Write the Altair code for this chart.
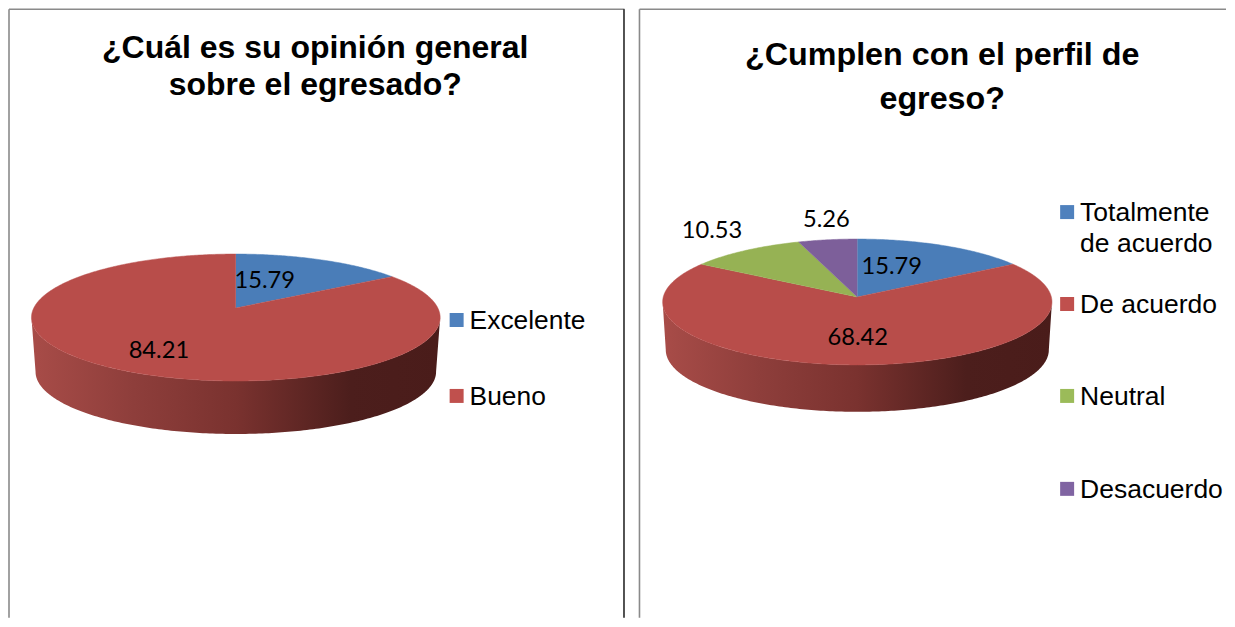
import math
import altair as alt
import pandas as pd

# ---- chart values ----
LEFT_TITLE = ["¿Cuál es su opinión general", "sobre el egresado?"]
LEFT_CATEGORIES = ["Excelente", "Bueno"]
LEFT_VALUES = [15.79, 84.21]

RIGHT_TITLE = ["¿Cumplen con el perfil de", "egreso?"]
RIGHT_CATEGORIES = ["Totalmente de acuerdo", "De acuerdo", "Neutral", "Desacuerdo"]
RIGHT_VALUES = [15.79, 68.42, 10.53, 5.26]

# ---- styling and layout ----
SLICE_COLORS = ["#4A7DB8", "#B84D4A", "#96B254", "#7D5F9A"]
KEY_COLORS = ["#4F81BD", "#C0504D", "#9BBB59", "#8064A2"]
WALL_STOPS = [(0, "#A84C48"), (0.25, "#8E3E3B"), (0.5, "#7A322F"), (0.78, "#4C1E1C"), (1, "#4A1C1A")]
H = 610
LABEL_FONT = "Lato"
KEY_FONT = "Liberation Sans"

LEFT_PANEL = dict(x0=8, x1=625, cx=236, cy=308, A=202.2, B=62.1, k=0.15, s=0.98, d=54.5)
RIGHT_PANEL = dict(x0=638, x1=1226, cx=857, cy=297, A=194.2, B=62.6, k=0.079, s=0.984, d=48)
LEFT_LABEL_POS = [(265, 281), (159, 351)]
RIGHT_LABEL_POS = [(891.5, 267), (857.5, 338), (711.5, 231), (826, 220)]
LEFT_KEY = dict(x=457, tx=470, y=[320, 396], size=26.4)
RIGHT_KEY = dict(x=1067, tx=1080, y=[212, 304, 396, 489], size=26.5)
LEFT_TITLE_POS = dict(x=315.5, y=58, lh=37, size=32)
RIGHT_TITLE_POS = dict(x=942, y=65, lh=44, size=32.3)


def project(theta, p, wall=False):
    u, v = math.sin(theta), math.cos(theta)
    w = 1 + p["k"] * v
    s = p["s"] if wall else 1
    d = p["d"] if wall else 0
    return p["cx"] + s * p["A"] * u / w, p["cy"] + d - s * p["B"] * v / w


def slice_rows(categories, values, p):
    rows, start = [], 0.0
    total = sum(values)
    for name, val in zip(categories, values):
        end = start + val / total * 2 * math.pi
        n = max(3, int((end - start) * 90))
        rows.append(dict(cat=name, i=0, x=p["cx"], y=p["cy"]))
        for j in range(n + 1):
            x, y = project(start + (end - start) * j / n, p)
            rows.append(dict(cat=name, i=j + 1, x=x, y=y))
        start = end
    return pd.DataFrame(rows)


def wall_rows(p):
    a0 = math.acos(-p["k"])
    a1 = 2 * math.pi - a0
    n = 200
    rows = []
    for j in range(n + 1):
        x, y = project(a0 + (a1 - a0) * j / n, p)
        rows.append(dict(i=j, x=x, y=y))
    for j in range(n + 1):
        x, y = project(a1 - (a1 - a0) * j / n, p, wall=True)
        rows.append(dict(i=n + 1 + j, x=x, y=y))
    return pd.DataFrame(rows)


def panel(title, categories, values, p, label_pos, key, tpos, extra=None):
    xs = alt.Scale(domain=[p["x0"], p["x1"]], nice=False, zero=False)
    ys = alt.Scale(domain=[8 + H, 8], nice=False, zero=False)
    X = lambda f="x": alt.X(f"{f}:Q", scale=xs, axis=None)
    Y = lambda f="y": alt.Y(f"{f}:Q", scale=ys, axis=None)

    wall = alt.Chart(wall_rows(p)).mark_line(
        fill=alt.Gradient(
            gradient="linear", x1=0, x2=1, y1=0, y2=0,
            stops=[alt.GradientStop(offset=o, color=c) for o, c in WALL_STOPS],
        ),
        stroke="transparent",
    ).encode(x=X(), y=Y(), order=alt.Order("i:Q"))

    slice_scale = alt.Scale(domain=categories, range=SLICE_COLORS[:len(categories)])
    faces = alt.Chart(slice_rows(categories, values, p)).mark_line(strokeWidth=0.5).encode(
        x=X(), y=Y(), order=alt.Order("i:Q"),
        fill=alt.Fill("cat:N", scale=slice_scale, legend=None),
        stroke=alt.Stroke("cat:N", scale=slice_scale, legend=None),
    )

    labels = alt.Chart(pd.DataFrame({
        "x": [q[0] for q in label_pos], "y": [q[1] for q in label_pos],
        "t": [f"{v:.2f}" for v in values],
    })).mark_text(font=LABEL_FONT, fontSize=23.7, color="black").encode(x=X(), y=Y(), text="t:N")

    key_df = pd.DataFrame({
        "cat": categories, "x": [key["x"]] * len(categories), "tx": [key["tx"]] * len(categories),
        "y": key["y"],
        "t": ["Totalmente|de acuerdo" if c.startswith("Totalmente") else c for c in categories],
    })
    key_marks = alt.Chart(key_df).mark_square(size=196, opacity=1).encode(
        x=X(), y=Y(),
        color=alt.Color("cat:N", scale=alt.Scale(domain=categories, range=KEY_COLORS[:len(categories)]), legend=None),
    )
    key_text = alt.Chart(key_df).transform_calculate(lines="split(datum.t, '|')").mark_text(
        font=KEY_FONT, fontSize=key["size"], color="black", align="left", baseline="alphabetic",
        lineHeight=31, dy=9,
    ).encode(x=X("tx"), y=Y(), text="lines:N")

    title_df = pd.DataFrame({"x": [tpos["x"]], "y": [tpos["y"]], "t": ["|".join(title)]})
    title_mark = alt.Chart(title_df).transform_calculate(lines="split(datum.t, '|')").mark_text(
        font=KEY_FONT, fontSize=tpos["size"], fontWeight="bold", color="black", align="center",
        baseline="alphabetic", lineHeight=tpos["lh"],
    ).encode(x=X(), y=Y(), text="lines:N")

    frame_df = pd.DataFrame([
        dict(x=p["x0"] + 1, x2=p["x0"] + 1, y=9, y2=8 + H),
        dict(x=p["x0"] + 1, x2=p["x1"], y=9, y2=9),
    ])
    frame = alt.Chart(frame_df).mark_rule(color="#8A8A8A", strokeWidth=1.6).encode(
        x=X(), x2="x2:Q", y=Y(), y2="y2:Q"
    )
    layers = [frame, wall, faces, labels, key_marks, key_text, title_mark]
    if extra:
        edge = alt.Chart(pd.DataFrame({"x": [extra], "y": [9], "y2": [8 + H]})).mark_rule(
            color="#1A1A1A", strokeWidth=1.5
        ).encode(x=X(), y=Y(), y2="y2:Q")
        layers.append(edge)
    return alt.layer(*layers).properties(
        width=p["x1"] - p["x0"], height=H,
    ).resolve_scale(fill="independent", stroke="independent", color="independent")


left = panel(LEFT_TITLE, LEFT_CATEGORIES, LEFT_VALUES, LEFT_PANEL, LEFT_LABEL_POS, LEFT_KEY, LEFT_TITLE_POS, extra=624.5)
right = panel(RIGHT_TITLE, RIGHT_CATEGORIES, RIGHT_VALUES, RIGHT_PANEL, RIGHT_LABEL_POS, RIGHT_KEY, RIGHT_TITLE_POS)

chart = alt.hconcat(left, right, spacing=13, padding=0).configure_view(stroke=None)
chart.save("out.html", embed_options={"renderer": "svg", "actions": False})
